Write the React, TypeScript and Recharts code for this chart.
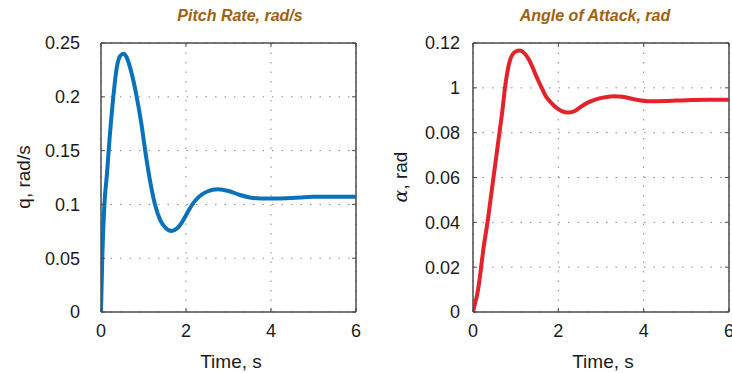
import React from 'react';
import { LineChart, Line, XAxis, YAxis, CartesianGrid, ReferenceArea } from 'recharts';

// ---- data ----
const timeTicks = [0, 2, 4, 6];

const pitchTime = [0, 0.03, 0.08, 0.14, 0.19, 0.29, 0.37, 0.45, 0.53, 0.6, 0.7, 0.84, 0.95, 1.04, 1.14, 1.27, 1.4, 1.5, 1.66, 1.8, 1.9, 2.0, 2.15, 2.3, 2.5, 2.75, 3.0, 3.25, 3.5, 3.75, 4.0, 4.5, 5.0, 5.5, 6.0];
const pitchRate = [0, 0.05, 0.1, 0.128, 0.155, 0.2, 0.227, 0.238, 0.24, 0.237, 0.225, 0.2, 0.175, 0.15, 0.125, 0.1, 0.085, 0.079, 0.0753, 0.078, 0.083, 0.09, 0.1, 0.107, 0.112, 0.114, 0.1125, 0.109, 0.1065, 0.1055, 0.1055, 0.106, 0.107, 0.107, 0.107];
const pitchTicks = [0, 0.05, 0.1, 0.15, 0.2, 0.25];
const pitchTickLabels = ['0', '0.05', '0.1', '0.15', '0.2', '0.25'];

const aoaTime = [0, 0.05, 0.1, 0.15, 0.19, 0.25, 0.34, 0.41, 0.48, 0.55, 0.62, 0.69, 0.75, 0.87, 1.0, 1.1, 1.2, 1.3, 1.4, 1.5, 1.61, 1.7, 1.8, 1.9, 2.0, 2.1, 2.23, 2.4, 2.5, 2.7, 2.9, 3.1, 3.3, 3.5, 3.8, 4.15, 4.5, 5.0, 5.5, 6.0];
const aoaValues = [0, 0.004, 0.008, 0.014, 0.02, 0.029, 0.04, 0.05, 0.06, 0.07, 0.08, 0.09, 0.1, 0.1125, 0.1162, 0.1166, 0.1155, 0.113, 0.109, 0.1045, 0.1, 0.0965, 0.094, 0.092, 0.0905, 0.0895, 0.089, 0.0898, 0.0912, 0.0935, 0.095, 0.0958, 0.0962, 0.096, 0.0948, 0.094, 0.0941, 0.0945, 0.0947, 0.0947];
const aoaTicks = [0, 0.02, 0.04, 0.06, 0.08, 0.1, 0.12];
const aoaTickLabels = ['0', '0.02', '0.04', '0.06', '0.08', '1', '0.12'];

const FONT = '"Liberation Sans", Arial, Helvetica, sans-serif';
const AXIS = '#4a4a4a';
const TEXT = '#1a1a1a';
const TITLE = '#a0600c';

type PanelProps = {
  times: number[];
  values: number[];
  color: string;
  yTicks: number[];
  yLabels: string[];
  yAxisWidth: number;
  yTickMargin: number;
  marginRight: number;
};

function Panel({ times, values, color, yTicks, yLabels, yAxisWidth, yTickMargin, marginRight }: PanelProps) {
  const data = times.map((t, i) => ({ t, v: values[i] }));
  const yMax = yTicks[yTicks.length - 1];
  const tickStyle = { fill: TEXT, fontSize: 18, fontFamily: FONT };
  return (
    <LineChart width={366} height={373} data={data} margin={{ top: 42, right: marginRight, bottom: 0, left: 0 }}>
      <CartesianGrid stroke="#8a8a8a" strokeDasharray="1.5 8" strokeWidth={1} xAxisId="b" yAxisId="l" />
      <XAxis
        xAxisId="b"
        dataKey="t"
        type="number"
        domain={[0, 6]}
        ticks={timeTicks}
        allowDataOverflow
        orientation="bottom"
        height={61}
        tickSize={-4}
        tickMargin={16}
        stroke={AXIS}
        tick={tickStyle}
        interval={0}
      />
      <XAxis
        xAxisId="top"
        dataKey="t"
        type="number"
        domain={[0, 6]}
        ticks={timeTicks}
        allowDataOverflow
        orientation="top"
        height={1}
        tickSize={-4}
        stroke={AXIS}
        tickFormatter={() => ''}
        interval={0}
      />
      <YAxis
        yAxisId="l"
        type="number"
        domain={[0, yMax]}
        ticks={yTicks}
        allowDataOverflow
        orientation="left"
        width={yAxisWidth}
        tickSize={-4}
        tickMargin={yTickMargin}
        stroke={AXIS}
        tick={tickStyle}
        interval={0}
        tickFormatter={(v: number) => yLabels[yTicks.indexOf(v)] ?? String(v)}
      />
      <YAxis
        yAxisId="r"
        type="number"
        domain={[0, yMax]}
        ticks={yTicks}
        allowDataOverflow
        orientation="right"
        width={1}
        tickSize={-4}
        stroke={AXIS}
        tickFormatter={() => ''}
        interval={0}
      />
      <ReferenceArea
        xAxisId="b"
        yAxisId="l"
        x1={0}
        x2={6}
        y1={0}
        y2={yMax}
        fill="none"
        fillOpacity={0}
        stroke={AXIS}
        strokeWidth={1}
        ifOverflow="visible"
      />
      <Line
        xAxisId="b"
        yAxisId="l"
        type="monotone"
        dataKey="v"
        stroke={color}
        strokeWidth={4}
        dot={false}
        isAnimationActive={false}
        strokeLinejoin="round"
        strokeLinecap="round"
      />
    </LineChart>
  );
}

export default function App() {
  return (
    <div style={{ position: 'absolute', left: 0, top: 0, width: 732, height: 373, background: '#fff', overflow: 'hidden' }}>
      <div style={{ position: 'absolute', left: 0, top: 0 }}>
        <Panel
          times={pitchTime}
          values={pitchRate}
          color="#0a72ba"
          yTicks={pitchTicks}
          yLabels={pitchTickLabels}
          yAxisWidth={101}
          yTickMargin={25}
          marginRight={9}
        />
      </div>
      <div style={{ position: 'absolute', left: 366, top: 0 }}>
        <Panel
          times={aoaTime}
          values={aoaValues}
          color="#e3222b"
          yTicks={aoaTicks}
          yLabels={aoaTickLabels}
          yAxisWidth={107}
          yTickMargin={17}
          marginRight={2}
        />
      </div>
      <svg width={732} height={373} style={{ position: 'absolute', left: 0, top: 0, pointerEvents: 'none' }}>
        <text x={240} y={21} textAnchor="middle" fill={TITLE} fontFamily={FONT} fontSize={16} fontWeight="bold" fontStyle="italic">
          Pitch Rate, rad/s
        </text>
        <text x={595} y={21} textAnchor="middle" fill={TITLE} fontFamily={FONT} fontSize={16} fontWeight="bold" fontStyle="italic">
          Angle of Attack, rad
        </text>
        <text x={231} y={368} textAnchor="middle" fill={TEXT} fontFamily={FONT} fontSize={19}>
          Time, s
        </text>
        <text x={603} y={368} textAnchor="middle" fill={TEXT} fontFamily={FONT} fontSize={19}>
          Time, s
        </text>
        <text x={30} y={177} textAnchor="middle" fill={TEXT} fontFamily={FONT} fontSize={19} transform="rotate(-90, 30, 177)">
          q, rad/s
        </text>
        <text x={407} y={177} textAnchor="middle" fill={TEXT} fontFamily={FONT} fontSize={19} transform="rotate(-90, 407, 177)">
          <tspan fontFamily='"DejaVu Serif", "Liberation Serif", serif' fontStyle="italic">α</tspan>
          <tspan>, rad</tspan>
        </text>
      </svg>
    </div>
  );
}
